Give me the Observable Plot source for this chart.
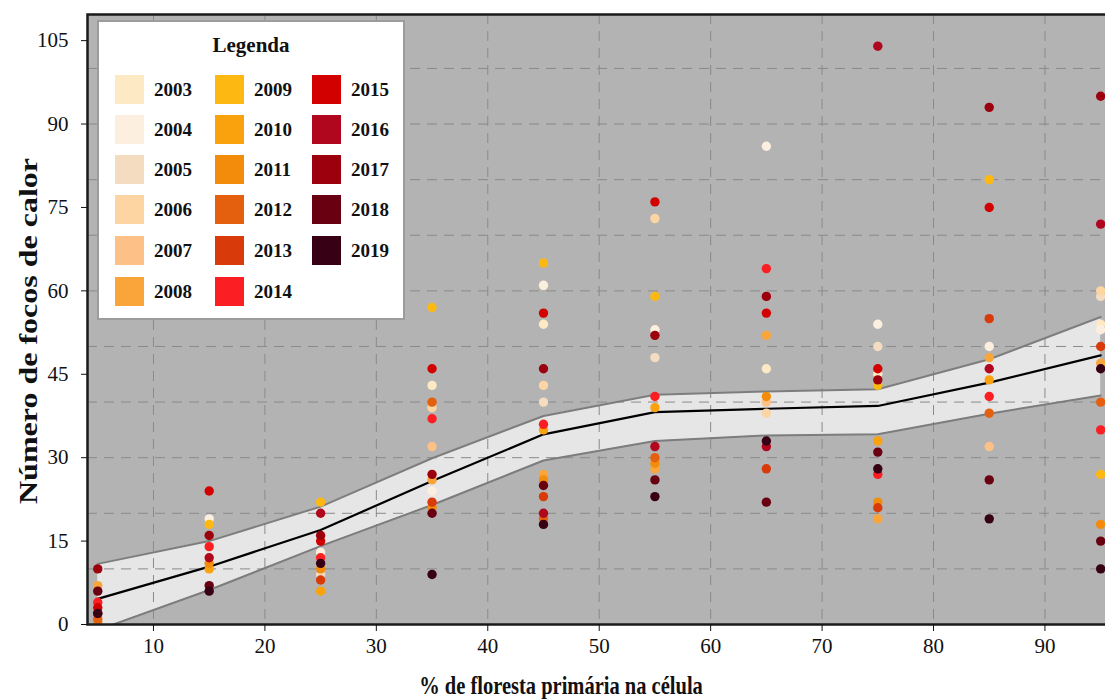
<!DOCTYPE html>
<html><head><meta charset="utf-8">
<script src="https://cdn.jsdelivr.net/npm/d3@7"></script>
<script src="https://cdn.jsdelivr.net/npm/@observablehq/plot@0.6"></script>
<style>
html,body{margin:0;padding:0;background:#fff;overflow:hidden;}
#wrap{position:relative;width:1105px;height:700px;overflow:hidden;font-family:"Liberation Serif","Times New Roman",serif;}
#chart{position:absolute;left:0;top:0;width:1118px;}
#chart svg{max-width:none !important;font-family:"Liberation Serif","Times New Roman",serif !important;}
#chart svg text{font-family:"Liberation Serif","Times New Roman",serif !important;font-size:21px;fill:#111;}
#legend{position:absolute;left:97px;top:20px;width:308px;height:300px;background:#fff;border:2px solid #9c9c9c;box-sizing:border-box;}
#legend .title{position:absolute;left:0;width:100%;top:11px;text-align:center;font-weight:bold;font-size:21px;color:#111;}
#legend .item{position:absolute;display:flex;align-items:center;font-weight:bold;font-size:19px;color:#111;}
#legend .sw{width:29px;height:29px;margin-right:10px;}
.ylab{position:absolute;left:29px;top:331px;transform:translate(-50%,-50%) rotate(-90deg) scaleY(0.8);font-weight:bold;font-size:32px;white-space:nowrap;color:#111;}
.xlab{position:absolute;left:561px;top:686px;transform:translate(-50%,-50%) scaleX(0.82);font-weight:bold;font-size:25px;white-space:nowrap;color:#111;}
</style></head><body>
<div id="wrap"><div id="chart"></div><div id="legend"></div>
<div class="ylab">Número de focos de calor</div>
<div class="xlab">% de floresta primária na célula</div>
</div>
<script>
// ---- data ----
const years = [2003,2004,2005,2006,2007,2008,2009,2010,2011,2012,2013,2014,2015,2016,2017,2018,2019];
const yearColors = ["#fde9c4","#fdefdf","#f3dcc0","#fdd5a2","#fdc087","#faa53a","#fdb812","#f9a20d","#f28c0a","#e4600e","#d83a0a","#fb1f23","#d30000","#b0061e","#9d000d","#690011","#370015"];
const xBins = [5,15,25,35,45,55,65,75,85,95];
const fitMean  = [4.6,10.4,17.0,25.8,34.2,38.2,38.8,39.3,43.5,48.4];
const fitLower = [-1.0,6.2,14.1,21.5,29.5,33.0,34.0,34.2,37.9,41.2];
const fitUpper = [10.9,15.0,21.2,29.9,37.5,41.3,41.9,42.3,47.7,55.3];
const xTicks = [10,20,30,40,50,60,70,80,90];
const yTicks = [0,15,30,45,60,75,90,105];
const xGrid = [10,20,30,40,50,60,70,80,90];
const yGrid = [10,20,30,40,50,60,70,80,90,100];
// [year, number of fire foci] per forest-cover class
const col05 = [[2017,10],[2008,7],[2018,6],[2014,4],[2015,3],[2016,2],[2019,2],[2012,1],[2011,0.5]];
const col15 = [[2015,24],[2004,19],[2009,18],[2017,16],[2014,14],[2016,12],[2011,11],[2010,10],[2018,7],[2019,6]];
const col25 = [[2009,22],[2016,20],[2017,16],[2015,15],[2004,13],[2014,12],[2019,11],[2011,10],[2005,9],[2013,8],[2010,6]];
const col35 = [[2009,57],[2015,46],[2003,43],[2012,40],[2006,39],[2014,37],[2007,32],[2017,27],[2008,26],[2004,24],[2013,22],[2011,21],[2018,20],[2019,9]];
const col45 = [[2009,65],[2004,61],[2015,56],[2003,54],[2017,46],[2006,43],[2005,40],[2014,36],[2010,35],[2008,27],[2011,26],[2018,25],[2013,23],[2016,20],[2012,19],[2019,18]];
const col55 = [[2015,76],[2006,73],[2009,59],[2004,53],[2017,52],[2005,48],[2014,41],[2010,39],[2016,32],[2012,30],[2011,29],[2008,28],[2018,26],[2019,23]];
const col65 = [[2004,86],[2014,64],[2017,59],[2015,56],[2008,52],[2003,46],[2011,41],[2007,40],[2006,38],[2019,33],[2016,32],[2013,28],[2018,22]];
const col75 = [[2016,104],[2004,54],[2005,50],[2015,46],[2003,45],[2017,44],[2009,43],[2010,33],[2018,31],[2019,28],[2014,27],[2011,22],[2013,21],[2008,19]];
const col85 = [[2017,93],[2009,80],[2015,75],[2013,55],[2004,50],[2008,48],[2016,46],[2010,44],[2014,41],[2012,38],[2007,32],[2018,26],[2019,19]];
const col95 = [[2017,95],[2016,72],[2006,60],[2005,59],[2003,54],[2004,53],[2013,50],[2008,47],[2019,46],[2012,40],[2014,35],[2009,27],[2011,18],[2018,15],[2019,10]];

// ---- build tables ----
const columns = [col05,col15,col25,col35,col45,col55,col65,col75,col85,col95];
const pts = [];
columns.forEach((arr,i)=>arr.forEach(([yr,v])=>pts.push({x:xBins[i],year:yr,v})));
pts.sort((a,b)=>a.year-b.year);
const fit = xBins.map((x,i)=>({x,m:fitMean[i],lo:fitLower[i],hi:fitUpper[i]}));

const chart = Plot.plot({
  width:1118, height:700,
  marginLeft:87, marginRight:0, marginTop:14, marginBottom:76,
  style:{background:"transparent",fontSize:"21px",color:"#111",overflow:"visible",maxWidth:"none"},
  x:{domain:[4.08,96.6]},
  y:{domain:[0,109.7]},
  color:{type:"ordinal",domain:years,range:yearColors},
  marks:[
    Plot.frame({fill:"#b3b3b3",stroke:null}),
    Plot.areaY(fit,{x:"x",y1:"lo",y2:"hi",fill:"#e6e6e6",clip:true}),
    Plot.ruleX(xGrid,{stroke:"#8a8a8a",strokeDasharray:"10,7",strokeWidth:1}),
    Plot.ruleY(yGrid,{stroke:"#8a8a8a",strokeDasharray:"10,7",strokeWidth:1}),
    Plot.line(fit,{x:"x",y:"lo",stroke:"#7d7d7d",strokeWidth:2,clip:true}),
    Plot.line(fit,{x:"x",y:"hi",stroke:"#7d7d7d",strokeWidth:2,clip:true}),
    Plot.line(fit,{x:"x",y:"m",stroke:"#000",strokeWidth:2.2}),
    Plot.dot(pts,{x:"x",y:"v",fill:"year",r:4.7,clip:true}),
    Plot.frame({stroke:"#1a1a1a",strokeWidth:2.5}),
    Plot.axisX({ticks:xTicks,tickSize:7,tickPadding:7,label:null,stroke:"#111"}),
    Plot.axisY({ticks:yTicks,tickSize:6,tickPadding:13,label:null,stroke:"#111"})
  ]
});
document.getElementById("chart").appendChild(chart);

// ---- legend ----
const lg = document.getElementById("legend");
const t = document.createElement("div"); t.className="title"; t.textContent="Legenda"; lg.appendChild(t);
const colLeft = [16,116,213];
const rowTop = [53,93,133,173,214,255];
years.forEach((yr,i)=>{
  const c = Math.floor(i/6), r = i%6;
  const it = document.createElement("div"); it.className="item";
  it.style.left = colLeft[c]+"px"; it.style.top = rowTop[r]+"px";
  const sw = document.createElement("div"); sw.className="sw"; sw.style.background = yearColors[i];
  const lb = document.createElement("span"); lb.textContent = yr;
  it.appendChild(sw); it.appendChild(lb); lg.appendChild(it);
});
</script>
</body></html>
